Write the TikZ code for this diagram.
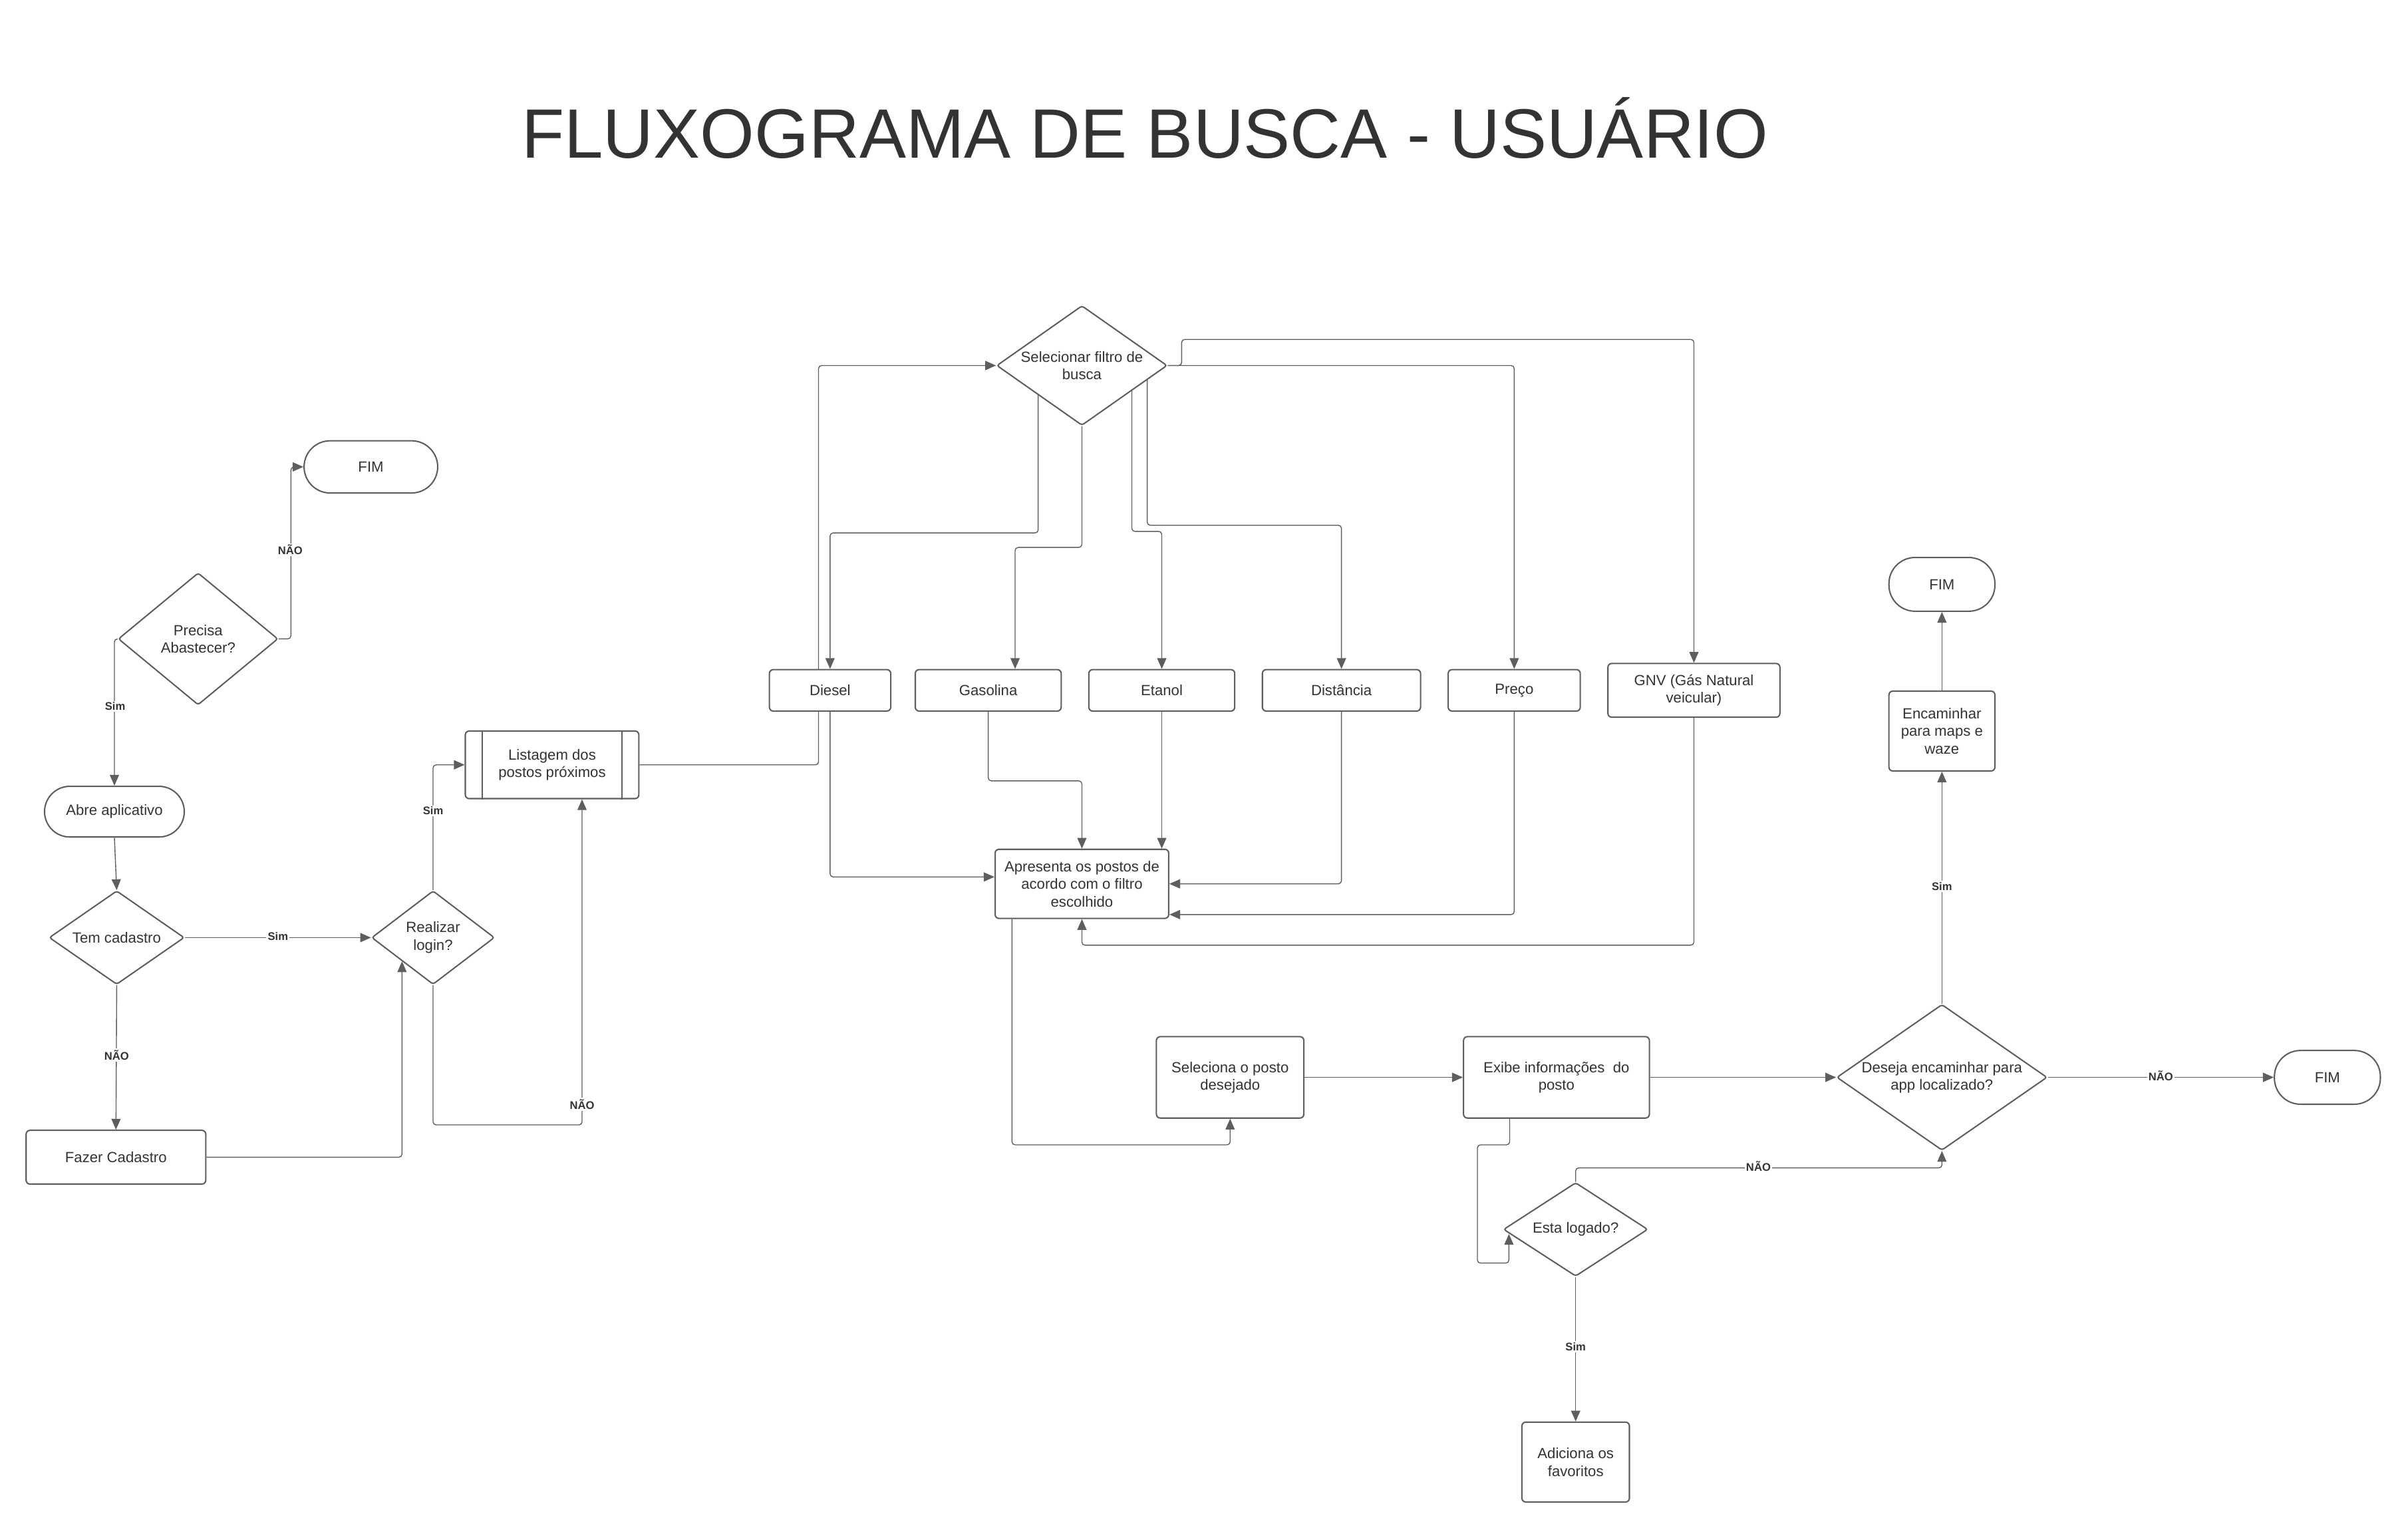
\documentclass[tikz,border=0pt]{standalone}
\usepackage{fontspec}
\setmainfont{Liberation Sans}
\usetikzlibrary{shapes.geometric,arrows.meta,backgrounds,positioning}

\definecolor{linec}{HTML}{5E5E5E}
\definecolor{textc}{HTML}{333333}
\newcommand{\boxfont}{\fontsize{9.6}{11.5}\selectfont}
\newcommand{\tagfont}{\fontsize{7.2}{8}\selectfont\bfseries}

\tikzset{
    base/.style={draw=linec, line width=0.9pt, fill=white, text=textc, font=\boxfont, align=center, inner sep=0pt},
    pill/.style={base, rounded corners=17pt},
    box/.style={base, rounded corners=2.5pt},
    decision/.style={base, diamond, rounded corners=1.5pt},
    conn/.style={draw=linec, line width=0.6pt, rounded corners=2pt, -{Triangle[length=7pt,width=6pt]}},
    tag/.style={fill=white, text=textc, font=\tagfont, inner sep=1pt},
}

\begin{document}
\begin{tikzpicture}[x=1pt, y=-1pt]
    \useasboundingbox (0,0) rectangle (1568,996);
    \node[text=textc, font=\fontsize{45.5}{50}\selectfont, anchor=base] (title) at (745.5,103) {FLUXOGRAMA DE BUSCA - USUÁRIO};

    % entrada e login
    \node[pill, minimum width=87pt, minimum height=34pt] (fimA) at (241.5,304) {FIM};
    \node[decision, aspect=1.21, minimum width=104pt, minimum height=86pt] (precisa) at (129,416) {Precisa\\Abastecer?};
    \node[pill, minimum width=91pt, minimum height=33pt, rounded corners=16.5pt] (abre) at (74.5,528.5) {Abre aplicativo};
    \node[decision, aspect=1.44, minimum width=88pt, minimum height=61pt] (temcad) at (76,610.5) {Tem cadastro};
    \node[box, minimum width=117pt, minimum height=35pt] (fazer) at (75.5,753.5) {Fazer Cadastro};
    \node[decision, aspect=1.31, minimum width=80pt, minimum height=61pt] (login) at (282,610.5) {Realizar\\login?};
    \node[box, minimum width=113pt, minimum height=44pt] (lista) at (359.5,498) {Listagem dos\\postos próximos};
    \draw[linec, line width=0.9pt] ([xshift=11.5pt]lista.north west) -- ([xshift=11.5pt]lista.south west);
    \draw[linec, line width=0.9pt] ([xshift=-11.5pt]lista.north east) -- ([xshift=-11.5pt]lista.south east);

    % filtros
    \node[decision, aspect=1.42, minimum width=111pt, minimum height=78pt] (filtro) at (704.5,238) {Selecionar filtro de\\busca};
    \node[box, minimum width=79pt, minimum height=27pt] (diesel) at (540.5,449.5) {Diesel};
    \node[box, minimum width=95pt, minimum height=27pt] (gasolina) at (643.5,449.5) {Gasolina};
    \node[box, minimum width=95pt, minimum height=27pt] (etanol) at (756.5,449.5) {Etanol};
    \node[box, minimum width=103pt, minimum height=27pt] (distancia) at (873.5,449.5) {Distância};
    \node[box, minimum width=86pt, minimum height=27pt] (preco) at (986,449.5) {Preço};
    \node[box, minimum width=112pt, minimum height=35pt] (gnv) at (1103,449.5) {GNV (Gás Natural\\veicular)};
    \node[box, minimum width=113pt, minimum height=45pt] (apresenta) at (704.5,575.5) {Apresenta os postos de\\acordo com o filtro\\escolhido};

    % posto escolhido
    \node[box, minimum width=96pt, minimum height=53pt] (seleciona) at (801,701.5) {Seleciona o posto\\desejado};
    \node[box, minimum width=121pt, minimum height=53pt] (exibe) at (1013.5,701.5) {Exibe informações~ do\\posto};
    \node[decision, aspect=1.54, minimum width=94pt, minimum height=61pt] (logado) at (1026,800.5) {Esta logado?};
    \node[box, minimum width=70pt, minimum height=52pt] (adiciona) at (1026,952) {Adiciona os\\favoritos};
    \node[decision, aspect=1.44, minimum width=137pt, minimum height=95pt] (deseja) at (1264.5,701.5) {Deseja encaminhar para\\app localizado?};
    \node[pill, minimum width=69pt, minimum height=35pt] (fimB) at (1515.5,701.5) {FIM};
    \node[box, minimum width=69pt, minimum height=52pt] (encam) at (1264.5,476) {Encaminhar\\para maps e\\waze};
    \node[pill, minimum width=69pt, minimum height=35pt] (fimC) at (1264.5,380.5) {FIM};

    \begin{pgfonlayer}{background}
    \draw[conn] (precisa.east) -- ++(8,0) |- (fimA.west);
    \draw[conn] (precisa.west) -| (abre.north);
    \draw[conn] (abre.south) -- (temcad.north);
    \draw[conn] (temcad.south) -- (fazer.north);
    \draw[conn] (temcad.east) -- (login.west);
    \draw[conn] (fazer.east) -| (login.south west);
    \draw[conn] (login.north) |- (lista.west);
    \draw[conn] (login.south) -- ++(0,91) -| ([xshift=19.5pt]lista.south);
    \draw[conn] (lista.east) -| ([xshift=-7.5pt]diesel.north) |- (filtro.west);
    \draw[conn] ([xshift=-28.5pt]filtro.center) -- ++(0,109) -| (diesel.north);
    \draw[conn] (filtro.south) -- ++(0,79) -| ([xshift=17.5pt]gasolina.north);
    \draw[conn] ([xshift=32.5pt]filtro.center) -- ++(0,108) -| (etanol.north);
    \draw[conn] ([xshift=42.5pt]filtro.center) -- ++(0,104) -| (distancia.north);
    \draw[conn] (filtro.east) -| (preco.north);
    \draw[conn] (filtro.east) -- ++(9,0) -- ++(0,-17) -| (gnv.north);
    \draw[conn] (diesel.south) |- ([yshift=4.5pt]apresenta.west);
    \draw[conn] (gasolina.south) -- ++(0,45) -| (apresenta.north);
    \draw[conn] (etanol.south) -- (etanol.south |- apresenta.north);
    \draw[conn] (distancia.south) |- (apresenta.east);
    \draw[conn] (preco.south) |- ([yshift=-20pt]apresenta.east);
    \draw[conn] (gnv.south) |- ([yshift=-17pt]apresenta.south) -- (apresenta.south);
    \draw[conn] ([xshift=-45.5pt]apresenta.south) -- ++(0,147) -| (seleciona.south);
    \draw[conn] (seleciona.east) -- (exibe.west);
    \draw[conn] (exibe.east) -- (deseja.west);
    \draw[conn] ([xshift=-30.5pt]exibe.south) -- ++(0,17) -- ++(-21,0) -- ++(0,77) -| ([xshift=4pt,yshift=-3pt]logado.west);
    \draw[conn] (logado.north) |- ([yshift=-11pt]deseja.south) -- (deseja.south);
    \draw[conn] (logado.south) -- (adiciona.north);
    \draw[conn] (deseja.east) -- (fimB.west);
    \draw[conn] (deseja.north) -- (encam.south);
    \draw[conn] (encam.north) -- (fimC.south);
    \end{pgfonlayer}

    % rotulos
    \node[tag] (tNao1) at (189,358) {NÃO};
    \node[tag] (tSim1) at (75,460) {Sim};
    \node[tag] (tNao2) at (76,687) {NÃO};
    \node[tag] (tSim2) at (181,609.5) {Sim};
    \node[tag] (tSim3) at (282,528) {Sim};
    \node[tag] (tNao3) at (379,719) {NÃO};
    \node[tag] (tNao4) at (1145,759.5) {NÃO};
    \node[tag] (tSim4) at (1026,877) {Sim};
    \node[tag] (tNao5) at (1407,700.5) {NÃO};
    \node[tag] (tSim5) at (1264.5,577) {Sim};
\end{tikzpicture}
\end{document}
